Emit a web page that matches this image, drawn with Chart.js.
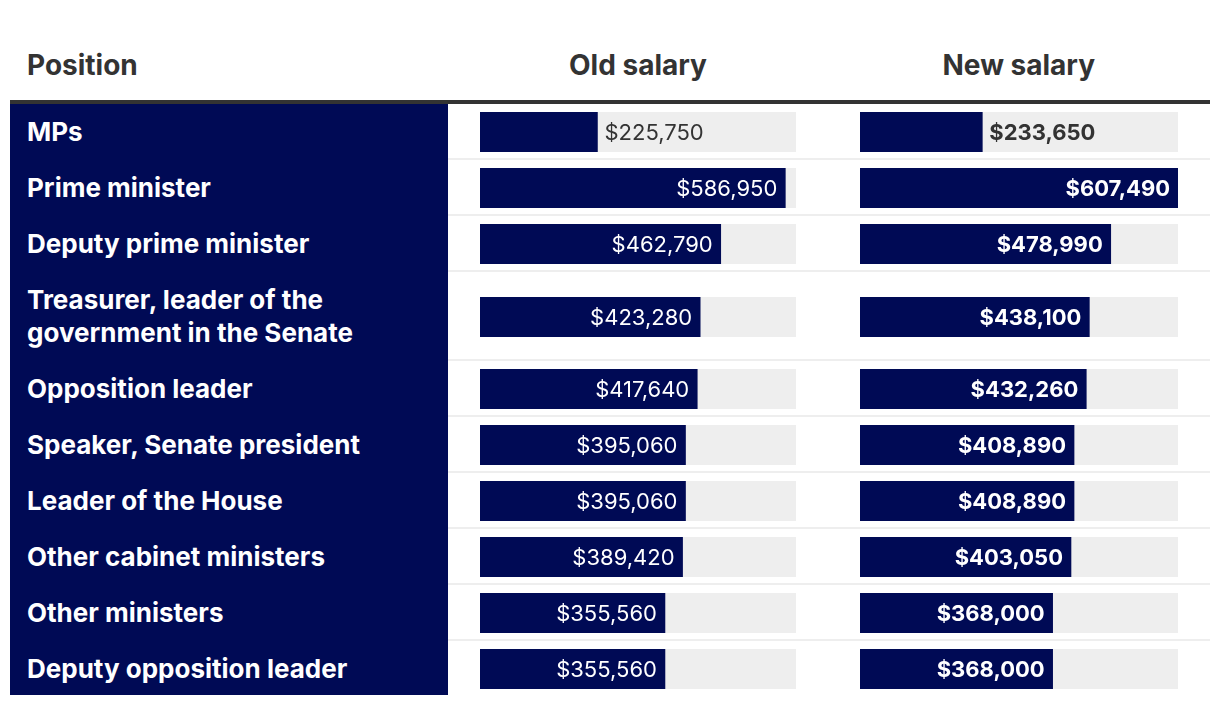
<!DOCTYPE html>
<html>
<head>
<meta charset="utf-8">
<script src="https://cdn.jsdelivr.net/npm/chart.js@4"></script>
<style>
  html, body { margin: 0; padding: 0; background: #fff; }
  body { width: 1220px; height: 706px; overflow: hidden; position: relative; font-family: Inter, "Open Sans", sans-serif; }
  .hdr { position: absolute; top: 48px; height: 34px; line-height: 34px; font-size: 28px; font-weight: 700; color: #333; }
  .rule { position: absolute; left: 10px; top: 100px; width: 1200px; height: 4px; background: #333; }
  #grid { position: absolute; left: 10px; top: 104px; width: 1200px; }
  .row { display: flex; }
  .lab { box-sizing: border-box; width: 438px; flex: 0 0 438px; background: #000a55; color: #fff; font-weight: 700; font-size: 26px; line-height: 33px; padding: 11px 60px 10px 17px; display: flex; align-items: center; }
  .cell { box-sizing: border-box; display: flex; align-items: center; padding-left: 32px; padding-top: 2px; }
  .c1 { width: 380px; flex: 0 0 380px; }
  .c2 { width: 382px; flex: 0 0 382px; }
  .row.sep .cell { border-bottom: 2px solid #eeeeee; }
  .row.sep .lab { border-bottom: 2px solid #000a55; }
  canvas { display: block; }
</style>
</head>
<body>
<div class="rule"></div>
<div id="grid"></div>
<script>
const columnTitles = ["Position", "Old salary", "New salary"];
const positions = [
  "MPs",
  "Prime minister",
  "Deputy prime minister",
  "Treasurer, leader of the government in the Senate",
  "Opposition leader",
  "Speaker, Senate president",
  "Leader of the House",
  "Other cabinet ministers",
  "Other ministers",
  "Deputy opposition leader"
];
const oldSalary = [225750, 586950, 462790, 423280, 417640, 395060, 395060, 389420, 355560, 355560];
const newSalary = [233650, 607490, 478990, 438100, 432260, 408890, 408890, 403050, 368000, 368000];

const NAVY = '#000a55';
const TRACK = '#eeeeee';
const maxVal = Math.max(...oldSalary, ...newSalary);
const fmt = v => '$' + v.toLocaleString('en-US');

// headers
const hdrCenters = [null, 638, 1019];
columnTitles.forEach((t, i) => {
  const d = document.createElement('div');
  d.className = 'hdr';
  d.textContent = t;
  document.body.appendChild(d);
  if (i === 0) d.style.left = '27px';
  else d.style.left = (hdrCenters[i] - d.offsetWidth / 2) + 'px';
});

const valueLabels = {
  id: 'valueLabels',
  afterDatasetsDraw(chart, args, opts) {
    const ctx = chart.ctx;
    const bar = chart.getDatasetMeta(1).data[0];
    const v = chart.data.datasets[1].data[0];
    const txt = fmt(v);
    ctx.save();
    ctx.font = opts.font;
    ctx.textBaseline = 'middle';
    const w = ctx.measureText(txt).width;
    const barW = bar.x - chart.chartArea.left;
    if (w + 24 < barW) {
      ctx.fillStyle = '#ffffff';
      ctx.textAlign = 'right';
      ctx.fillText(txt, bar.x - 8, bar.y + 1);
    } else {
      ctx.fillStyle = '#333333';
      ctx.textAlign = 'left';
      ctx.fillText(txt, bar.x + 7, bar.y + 1);
    }
    ctx.restore();
  }
};

function makeChart(canvas, label, value, font) {
  return new Chart(canvas, {
    type: 'bar',
    data: {
      labels: [label],
      datasets: [
        { data: [maxVal], backgroundColor: TRACK, grouped: false, order: 2, barPercentage: 1, categoryPercentage: 1 },
        { data: [value], backgroundColor: NAVY, grouped: false, order: 1, barPercentage: 1, categoryPercentage: 1 }
      ]
    },
    options: {
      indexAxis: 'y',
      responsive: false,
      animation: false,
      events: [],
      layout: { padding: 0 },
      scales: {
        x: { display: false, min: 0, max: maxVal },
        y: { display: false }
      },
      plugins: {
        legend: { display: false },
        tooltip: { enabled: false },
        valueLabels: { font: font }
      }
    },
    plugins: [valueLabels]
  });
}

const grid = document.getElementById('grid');
positions.forEach((p, i) => {
  const row = document.createElement('div');
  row.className = 'row' + (i < positions.length - 1 ? ' sep' : '');
  const lab = document.createElement('div');
  lab.className = 'lab';
  lab.textContent = p;
  row.appendChild(lab);
  const c1 = document.createElement('div'); c1.className = 'cell c1';
  const cv1 = document.createElement('canvas'); cv1.width = 316; cv1.height = 40;
  c1.appendChild(cv1); row.appendChild(c1);
  const c2 = document.createElement('div'); c2.className = 'cell c2';
  const cv2 = document.createElement('canvas'); cv2.width = 318; cv2.height = 40;
  c2.appendChild(cv2); row.appendChild(c2);
  grid.appendChild(row);
  makeChart(cv1, p, oldSalary[i], '400 22px Inter, "Open Sans", sans-serif');
  makeChart(cv2, p, newSalary[i], '700 22px Inter, "Open Sans", sans-serif');
});
</script>
</body>
</html>
